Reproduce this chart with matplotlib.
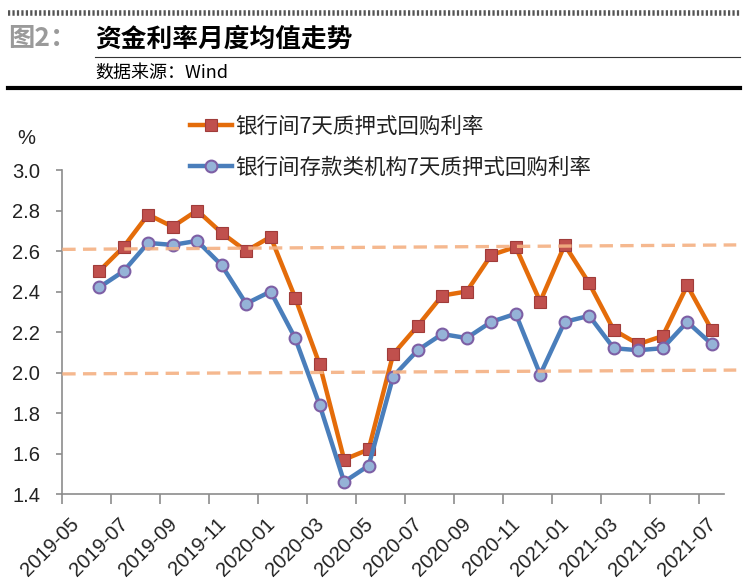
import matplotlib.pyplot as plt
from matplotlib.lines import Line2D
from matplotlib.transforms import ScaledTranslation
import numpy as np

plt.rcParams['font.family'] = ['Liberation Sans', 'Noto Sans CJK SC', 'DejaVu Sans']

months = ['2019-06', '2019-07', '2019-08', '2019-09', '2019-10', '2019-11', '2019-12',
          '2020-01', '2020-02', '2020-03', '2020-04', '2020-05', '2020-06', '2020-07',
          '2020-08', '2020-09', '2020-10', '2020-11', '2020-12', '2021-01', '2021-02',
          '2021-03', '2021-04', '2021-05', '2021-06', '2021-07']
r007 = [2.50, 2.62, 2.78, 2.72, 2.80, 2.69, 2.60, 2.67, 2.37, 2.04, 1.57, 1.62, 2.09,
        2.23, 2.38, 2.40, 2.58, 2.62, 2.35, 2.63, 2.44, 2.21, 2.14, 2.18, 2.43, 2.21]
dr007 = [2.42, 2.50, 2.64, 2.63, 2.65, 2.53, 2.34, 2.40, 2.17, 1.84, 1.46, 1.54, 1.98,
         2.11, 2.19, 2.17, 2.25, 2.29, 1.99, 2.25, 2.28, 2.12, 2.11, 2.12, 2.25, 2.14]
tick_labels = ['2019-05', '2019-07', '2019-09', '2019-11', '2020-01', '2020-03', '2020-05',
               '2020-07', '2020-09', '2020-11', '2021-01', '2021-03', '2021-05', '2021-07']
upper_band = [2.608, 2.630]
lower_band = [1.993, 2.012]

fig = plt.figure(figsize=(7.5, 5.88), dpi=100)
ax = fig.add_axes([62.3 / 750, 1 - 494 / 588, (724 - 62.3) / 750, (494 - 170) / 588])

# months counted from 2019-05, points sit in the middle of their month
x = np.arange(len(months)) + 1.5

l1, = ax.plot(x, r007, '-', color='#E46C0A', lw=3.2, marker='s', ms=9,
              mfc='#C0504D', mec='#A03C3A', mew=0.8, zorder=3)
l2, = ax.plot(x, dr007, '-', color='#4A7EBB', lw=3.2, marker='o', ms=8.5,
              mfc='#95B3D7', mec='#7D5FA5', mew=1.5, zorder=4)

# hand drawn dashed range lines
for band in (upper_band, lower_band):
    ax.plot([0, 27.5], band, color='#F4B183', lw=2.4, dashes=(4, 2.2),
            clip_on=False, zorder=5, alpha=0.9)

ax.set_xlim(0, 27)
ax.set_ylim(1.4, 3.0)
ax.set_yticks(np.arange(1.4, 3.01, 0.2))
ax.set_yticklabels([f'{v:.1f}' for v in np.arange(1.4, 3.01, 0.2)])

for s in ['top', 'right']:
    ax.spines[s].set_visible(False)
for s in ['left', 'bottom']:
    ax.spines[s].set_color('#8C8C8C')
    ax.spines[s].set_linewidth(1.2)
ax.tick_params(axis='y', length=4, width=1.2, color='#8C8C8C', labelsize=14.5,
               labelcolor='#222222', pad=12)
ax.tick_params(axis='x', length=7, width=1.2, color='#8C8C8C', labelsize=14.5,
               labelcolor='#222222', pad=4)

ax.set_xticks(np.arange(0, 27, 2))
ax.set_xticklabels(tick_labels, rotation=45, ha='right', va='top', rotation_mode='anchor')
# nudge the slanted labels a little right and down, like the original
shift = ScaledTranslation(7 / 100, -5 / 100, fig.dpi_scale_trans)
for lab in ax.get_xticklabels():
    lab.set_transform(lab.get_transform() + shift)

fig.text(26 / 750, 1 - 138 / 588, '%', fontsize=14.5, color='#222222', ha='center', va='center')

leg = ax.legend([l1, l2], ['银行间7天质押式回购利率', '银行间存款类机构7天质押式回购利率'],
                loc='upper left', bbox_to_anchor=(190 / 750, 1 - 116 / 588),
                bbox_transform=fig.transFigure, frameon=False, fontsize=15.5,
                handlelength=1.95, handletextpad=0.15, labelspacing=0.88,
                borderpad=0, borderaxespad=0)
for t in leg.get_texts():
    t.set_color('#222222')
    t.set_family(['Noto Sans CJK SC', 'DejaVu Sans'])

# header
fig.add_artist(Line2D([8 / 750, 740 / 750], [1 - 13 / 588, 1 - 13 / 588], color='#555555',
                      lw=4, dashes=(0.4, 0.4), transform=fig.transFigure))
fig.text(8 / 750, 1 - 39 / 588, '图2：', fontsize=19, fontweight='bold', color='#9A9A9A',
         va='center', family=['Noto Sans CJK SC', 'DejaVu Sans'])
fig.text(95 / 750, 1 - 39 / 588, '资金利率月度均值走势', fontsize=18.5, fontweight='bold',
         color='#000000', va='center', family=['Noto Sans CJK SC', 'DejaVu Sans'])
fig.add_artist(Line2D([95 / 750, 740 / 750], [1 - 57 / 588, 1 - 57 / 588], color='#333333',
                      lw=0.8, transform=fig.transFigure))
fig.text(95 / 750, 1 - 73 / 588, '数据来源：Wind', fontsize=13, color='#000000',
         va='center', family=['Noto Sans CJK SC', 'DejaVu Sans'])
fig.add_artist(Line2D([8 / 750, 740 / 750], [1 - 88 / 588, 1 - 88 / 588], color='#000000',
                      lw=3, transform=fig.transFigure))

plt.savefig('out.png', dpi=100)
